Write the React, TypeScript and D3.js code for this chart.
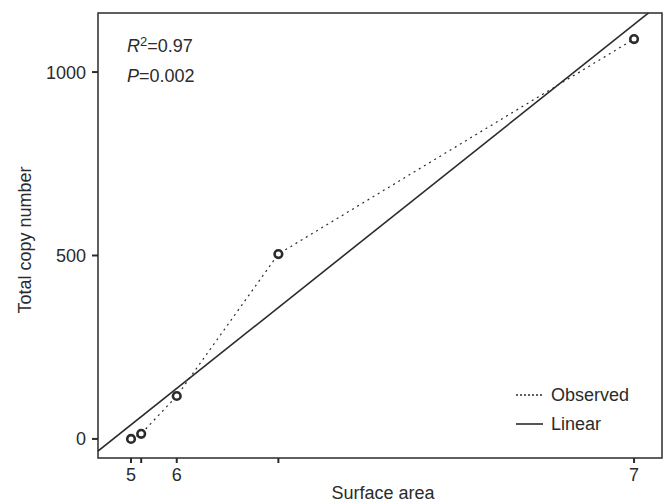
import React from 'react';
import * as d3 from 'd3';

// surface area values (tick labels are log10 exponents)
const surfaceArea = [1e5, 3e5, 1e6, 3e6, 1e7];
const copyNumber = [0, 14, 117, 504, 1090];
const xTickValues = [1e5, 3e5, 1e6, 3e6, 1e7];
const xTickLabels = ['5', '', '6', '', '7'];
const yTickValues = [0, 500, 1000];
const statsLines = [
  { italic: 'R', sup: '2', rest: '=0.97' },
  { italic: 'P', sup: '', rest: '=0.002' },
];
const legendItems = [
  { label: 'Observed', dash: '2,2' },
  { label: 'Linear', dash: null },
];

const W = 665;
const H = 502;
const margin = { top: 13, right: 3, bottom: 44, left: 98 };
const ink = '#2b2b2b';
const font = 'Liberation Sans, Arial, sans-serif';

export default function App() {
  const x = d3.scaleLinear().domain([-5.5e5, 1.055e7]).range([margin.left, W - margin.right]);
  const y = d3.scaleLinear().domain([-52, 1161]).range([H - margin.bottom, margin.top]);

  // least squares fit
  const mx = d3.mean(surfaceArea)!;
  const my = d3.mean(copyNumber)!;
  const sxy = d3.sum(surfaceArea, (v, i) => (v - mx) * (copyNumber[i] - my));
  const sxx = d3.sum(surfaceArea, v => (v - mx) ** 2);
  const slope = sxy / sxx;
  const intercept = my - slope * mx;
  const [x0, x1] = x.domain();
  const fitPath = d3.line<number>().x(d => x(d)).y(d => y(intercept + slope * d))([x0, x1]);

  const obsPath = d3.line<number>()
    .x(d => x(d))
    .y((d, i) => y(copyNumber[i]))(surfaceArea);

  const left = margin.left;
  const right = W - margin.right;
  const top = margin.top;
  const bottom = H - margin.bottom;

  return (
    <svg width={W} height={H} style={{ position: 'absolute', left: 0, top: 0, background: '#fff' }}
      fontFamily={font} fill={ink}>
      <defs>
        <clipPath id="plot">
          <rect x={left} y={top} width={right - left} height={bottom - top} />
        </clipPath>
      </defs>

      {/* frame */}
      <rect x={left} y={top} width={right - left} height={bottom - top} fill="none" stroke={ink} strokeWidth={1.5} />

      {/* y axis ticks */}
      {yTickValues.map(v => (
        <g key={v}>
          <line x1={left - 6} x2={left} y1={y(v)} y2={y(v)} stroke={ink} strokeWidth={2} />
          <text x={left - 12} y={y(v)} dy="0.36em" textAnchor="end" fontSize={18}>{v}</text>
        </g>
      ))}

      {/* x axis ticks */}
      {xTickValues.map((v, i) => (
        <g key={v}>
          <line x1={x(v)} x2={x(v)} y1={bottom} y2={bottom + 5} stroke={ink} strokeWidth={2} />
          <text x={x(v)} y={481} textAnchor="middle" fontSize={18}>{xTickLabels[i]}</text>
        </g>
      ))}

      <text x={383} y={499} textAnchor="middle" fontSize={18}>Surface area</text>
      <text transform={`translate(31,${240}) rotate(-90)`} textAnchor="middle" fontSize={18}>Total copy number</text>

      <g clipPath="url(#plot)">
        <path d={fitPath!} fill="none" stroke={ink} strokeWidth={1.6} />
        <path d={obsPath!} fill="none" stroke={ink} strokeWidth={1.2} strokeDasharray="2,4" />
        {surfaceArea.map((v, i) => (
          <circle key={v} cx={x(v)} cy={y(copyNumber[i])} r={3.8} fill="#fff" stroke={ink} strokeWidth={2.6} />
        ))}
      </g>

      {/* stats */}
      {statsLines.map((s, i) => (
        <text key={s.italic} x={127} y={52 + i * 30} fontSize={18}>
          <tspan fontStyle="italic">{s.italic}</tspan>
          {s.sup && <tspan fontSize={13} dy={-6}>{s.sup}</tspan>}
          <tspan dy={s.sup ? 6 : 0}>{s.rest}</tspan>
        </text>
      ))}

      {/* legend */}
      {legendItems.map((item, i) => (
        <g key={item.label} transform={`translate(516,${395 + i * 29})`}>
          <line x1={0} x2={27} y1={0} y2={0} stroke={ink} strokeWidth={1.6}
            strokeDasharray={item.dash ?? undefined} />
          <text x={35} y={0} dy="0.36em" fontSize={18}>{item.label}</text>
        </g>
      ))}
    </svg>
  );
}
